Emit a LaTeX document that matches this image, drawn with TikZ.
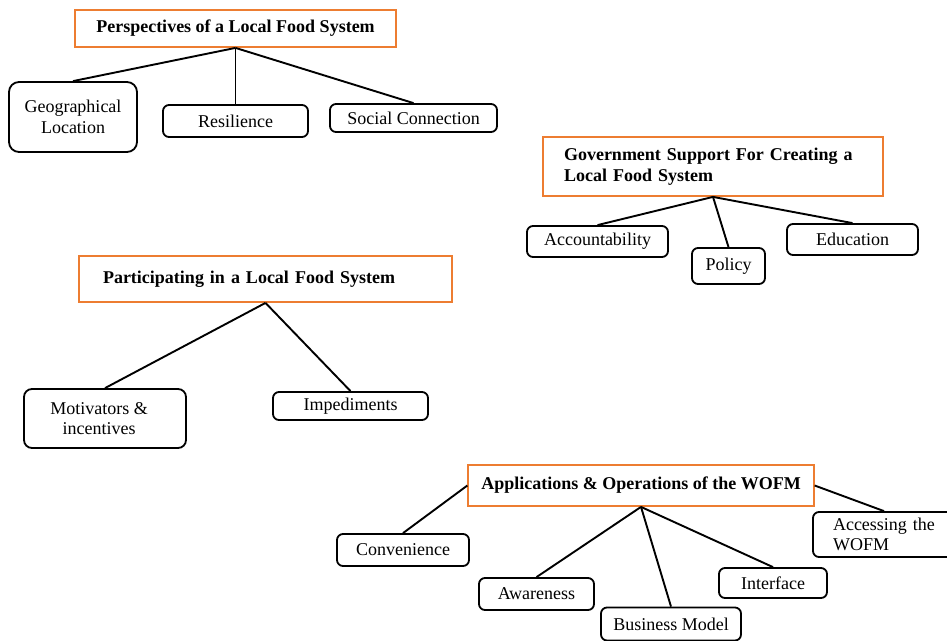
\documentclass[tikz,border=0pt]{standalone}
\usepackage{fontspec}
\setmainfont{Liberation Serif}
\definecolor{orng}{RGB}{237,125,49}
\tikzset{
  head/.style={draw=orng, line width=1.8pt, fill=white, font=\fontsize{18}{20.5}\selectfont\bfseries, inner sep=0pt},
  leaf/.style={draw=black, line width=1.8pt, rounded corners=6pt, fill=white, inner sep=0pt, align=center, font=\fontsize{18}{20.5}\selectfont},
  link/.style={line width=1.9pt}
}
\begin{document}
\begin{tikzpicture}[x=1pt, y=-1pt]
\useasboundingbox (0,0) rectangle (947,640);
% heads
\node[head, minimum width=321pt, minimum height=37pt] (persp) at (235.5,28.5) {Perspectives of a Local Food System};
\node[head, minimum height=59pt, text width=298pt, inner xsep=21pt, align=left] (gov) at (713,166.5) {Government Support For Creating a\\Local Food System};
\node[head, minimum height=46pt, text width=325pt, inner xsep=24pt, align=left] (part) at (265.5,279) {Participating in a Local Food System};
\node[head, minimum width=345.5pt, minimum height=41pt] (app) at (641,485.5) {Applications \& Operations of the WOFM};
% leaves
\node[leaf, minimum width=128pt, minimum height=70pt, rounded corners=10pt] (geo) at (73,117) {Geographical\\Location};
\node[leaf, minimum width=145pt, minimum height=32pt] (res) at (235.5,121) {Resilience};
\node[leaf, minimum width=167pt, minimum height=28pt] (soc) at (413.5,118) {Social Connection};
\node[leaf, minimum width=141pt, minimum height=31pt] (acc) at (597.5,241.5) {Accountability};
\node[leaf, minimum width=73pt, minimum height=36pt] (pol) at (728.5,266) {Policy};
\node[leaf, minimum width=131pt, minimum height=31pt] (edu) at (852.5,239.5) {Education};
\node[leaf, minimum width=162pt, minimum height=59pt, rounded corners=8pt] (mot) at (105,418.5) {Motivators \&\hspace*{12pt}\\incentives\hspace*{12pt}};
\node[leaf, minimum width=155pt, minimum height=28pt] (imp) at (350.5,406) {Impediments};
\node[leaf, minimum width=132pt, minimum height=32pt] (conv) at (403,550) {Convenience};
\node[leaf, minimum width=115pt, minimum height=32pt] (awa) at (536.5,594) {Awareness};
\node[leaf, minimum width=140pt, minimum height=33pt] (bus) at (671,624) {Business Model};
\node[leaf, minimum width=108pt, minimum height=30pt] (intf) at (773,583) {Interface};
\node[leaf, minimum height=45pt, text width=122pt, inner xsep=10pt, align=left] (accs) at (884,534.5) {\hspace*{10pt}Accessing the\\\hspace*{10pt}WOFM};
% connectors
\draw[link] (persp.south) -- (geo.north);
\draw[link] (persp.south) -- (res.north);
\draw[link] (persp.south) -- (soc.north);
\draw[link] (gov.south) -- (acc.north);
\draw[link] (gov.south) -- (pol.north);
\draw[link] (gov.south) -- (edu.north);
\draw[link] (part.south) -- (mot.north);
\draw[link] (part.south) -- (imp.north);
\draw[link] (app.west) -- (conv.north);
\draw[link] (app.south) -- (awa.north);
\draw[link] (app.south) -- (bus.north);
\draw[link] (app.south) -- (intf.north);
\draw[link] (app.east) -- (accs.north);
\end{tikzpicture}
\end{document}
